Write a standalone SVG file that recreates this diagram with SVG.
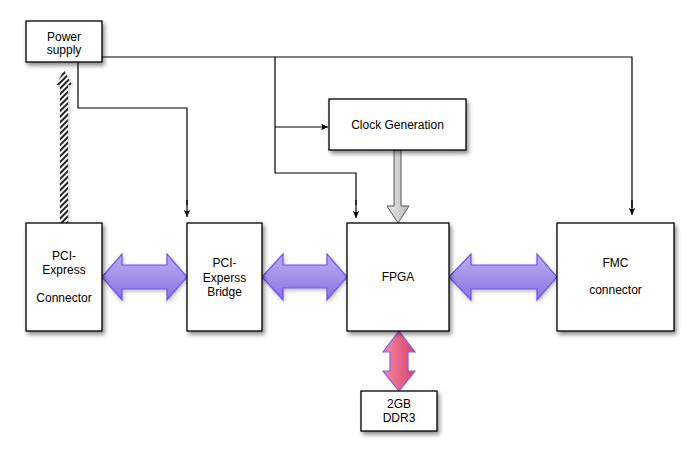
<svg xmlns="http://www.w3.org/2000/svg" width="700" height="462" viewBox="0 0 700 462">
<style>
.box{fill:#fff;stroke:#000;stroke-width:1.3;filter:url(#sh)}
.t{font-family:"Liberation Sans",Arial,sans-serif;font-size:12px;text-anchor:middle;fill:#000}
.ln{fill:none;stroke:#000;stroke-width:1.2}
.ar{fill:none;stroke:#000;stroke-width:1.2;marker-end:url(#ah)}
.dbl{fill:url(#pg);stroke:#6b4ff5;stroke-width:1.2;filter:url(#sh2)}
</style>
<defs>
<filter id="sh" x="-20%" y="-20%" width="150%" height="150%">
<feDropShadow dx="2" dy="3" stdDeviation="2" flood-color="#000" flood-opacity="0.45"/>
</filter>
<filter id="sh2" x="-20%" y="-20%" width="150%" height="150%">
<feDropShadow dx="1" dy="2" stdDeviation="2" flood-color="#000" flood-opacity="0.25"/>
</filter>
<marker id="ah" markerWidth="8" markerHeight="8" refX="7" refY="4" orient="auto" markerUnits="userSpaceOnUse">
<path d="M0,0.8 L7,4 L0,7.2 L1.5,4 Z" fill="#000"/>
</marker>
<linearGradient id="pg" x1="0" y1="0" x2="0" y2="1">
<stop offset="0" stop-color="#bcaef5"/>
<stop offset="1" stop-color="#8a72e0"/>
</linearGradient>
<linearGradient id="kg" x1="0" y1="0" x2="1" y2="0">
<stop offset="0" stop-color="#f48ca4"/>
<stop offset="1" stop-color="#d8406c"/>
</linearGradient>
<linearGradient id="gg" x1="0" y1="0" x2="1" y2="0">
<stop offset="0" stop-color="#e6e6e6"/>
<stop offset="1" stop-color="#bdbdbd"/>
</linearGradient>
<pattern id="hatch" patternUnits="userSpaceOnUse" width="4" height="4" patternTransform="rotate(45)">
<rect width="4" height="4" fill="#fff"/>
<rect width="2" height="4" fill="#222"/>
</pattern>
</defs>

<g id="connectors">
<path class="ln" d="M102,57 H632 V208"/>
<path class="ar" d="M632,200 V215"/>
<path class="ln" d="M275,57 V173 H356 V205"/>
<path class="ar" d="M356,200 V218"/>
<path class="ar" d="M275,127 H328"/>
<path class="ln" d="M78,62 V108 H187 V205"/>
<path class="ar" d="M187,200 V217"/>
<path d="M60,224 V85 H56 L64,70 L72,85 H68 V224 Z" fill="url(#hatch)" stroke="none" filter="url(#sh2)"/>
<path class="dbl" d="M102,277 L122,254 L122,265 L167,265 L167,254 L187,277 L167,300 L167,289 L122,289 L122,300 Z"/>
<path class="dbl" d="M262,277 L283,254 L283,265 L327,265 L327,254 L347,277 L327,300 L327,288 L283,288 L283,300 Z"/>
<path class="dbl" d="M449,277 L471,254 L471,265 L537,265 L537,254 L557,277 L537,300 L537,289 L471,289 L471,300 Z"/>
<path d="M399,331 L415,352 L408,352 L408,371 L415,371 L399,391 L383,371 L390,371 L390,352 L383,352 Z" fill="url(#kg)" stroke="#8a5ae6" stroke-width="1.2"/>
<path d="M394,150 L401,150 L401,206 L409,206 L398,223 L387,206 L394,206 Z" fill="url(#gg)" stroke="#555" stroke-width="1"/>
</g>

<g id="power">
<rect class="box" x="26" y="21" width="76" height="41"/>
<text class="t" x="64" y="41">Power</text>
<text class="t" x="64" y="54">supply</text>
</g>
<g id="pcie">
<rect class="box" x="26" y="223" width="76" height="108"/>
<text class="t" x="64" y="260">PCI-</text>
<text class="t" x="64" y="274">Express</text>
<text class="t" x="64" y="302">Connector</text>
</g>
<g id="bridge">
<rect class="box" x="187" y="223" width="75" height="108"/>
<text class="t" x="224.5" y="267">PCI-</text>
<text class="t" x="224.5" y="281.5">Experss</text>
<text class="t" x="224.5" y="296">Bridge</text>
</g>
<g id="clock">
<rect class="box" x="329" y="99" width="137" height="51"/>
<text class="t" x="397.5" y="129">Clock Generation</text>
</g>
<g id="fpga">
<rect class="box" x="347" y="223" width="102" height="108"/>
<text class="t" x="398" y="281">FPGA</text>
</g>
<g id="fmc">
<rect class="box" x="557" y="223" width="117" height="108"/>
<text class="t" x="615.5" y="267">FMC</text>
<text class="t" x="615.5" y="294">connector</text>
</g>
<g id="ddr3">
<rect class="box" x="361" y="391" width="76" height="40"/>
<text class="t" x="399" y="408">2GB</text>
<text class="t" x="399" y="422">DDR3</text>
</g>
</svg>
